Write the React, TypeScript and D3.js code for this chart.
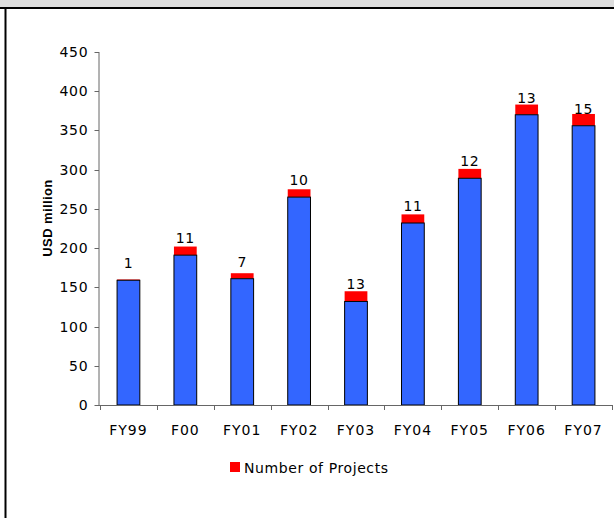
import React from "react";
import * as d3 from "d3";

const categories = ["FY99", "F00", "FY01", "FY02", "FY03", "FY04", "FY05", "FY06", "FY07"];
const usdMillion = [159, 191, 161, 265, 132, 232, 289, 370, 356];
const projectCounts = [1, 11, 7, 10, 13, 11, 12, 13, 15];
const yTicks = [0, 50, 100, 150, 200, 250, 300, 350, 400, 450];

const W = 614;
const H = 518;

export default function App() {
  const x = d3
    .scaleBand<string>()
    .domain(categories)
    .range([100, 612])
    .paddingInner(0.6)
    .paddingOuter(0.3);
  const y = d3.scaleLinear().domain([0, 450]).range([405, 52]);
  const step = x.step();
  const gap = (step - x.bandwidth()) / 2;
  const boundaries = categories.map((c) => (x(c) as number) - gap).concat([612]);
  const font = "'DejaVu Sans', Verdana, sans-serif";
  const axisColor = "#666";

  return (
    <svg
      width={W}
      height={H}
      style={{ position: "absolute", left: 0, top: 0, display: "block", background: "#fff" }}
    >
      {/* frame */}
      <rect x={0} y={0} width={W} height={7} fill="#DDDDDD" />
      <rect x={0} y={7} width={W} height={2} fill="#000" />
      <rect x={4.5} y={7} width={2} height={H - 7} fill="#000" />

      {/* bars */}
      {categories.map((c, i) => {
        const bx = x(c) as number;
        const bw = x.bandwidth();
        const blueTop = y(usdMillion[i]);
        const redTop = y(usdMillion[i] + projectCounts[i]);
        return (
          <g key={c}>
            <rect x={bx} y={redTop} width={bw} height={blueTop - redTop} fill="#FF0000" />
            <rect
              x={bx}
              y={blueTop}
              width={bw}
              height={y(0) - blueTop}
              fill="#3366FF"
              stroke="#000"
              strokeWidth={1}
            />
            <text
              x={bx + bw / 2}
              y={blueTop - 12}
              textAnchor="middle"
              fontFamily={font}
              fontSize={14}
              letterSpacing={0.6}
              fill="#000"
            >
              {projectCounts[i]}
            </text>
          </g>
        );
      })}

      {/* y axis */}
      <line x1={99} x2={99} y1={y(450)} y2={y(0)} stroke={axisColor} strokeWidth={1} />
      {yTicks.map((t) => (
        <g key={t}>
          <line x1={94.5} x2={99} y1={Math.round(y(t)) + 0.5} y2={Math.round(y(t)) + 0.5} stroke={axisColor} />
          <text
            x={88.5}
            y={y(t) + 5}
            textAnchor="end"
            fontFamily={font}
            fontSize={14}
            letterSpacing={0.8}
            fill="#000"
          >
            {t}
          </text>
        </g>
      ))}

      {/* x axis */}
      <line x1={99} x2={612} y1={405.5} y2={405.5} stroke={axisColor} strokeWidth={1} />
      {boundaries.map((b, i) => (
        <line key={i} x1={Math.round(b) + 0.5} x2={Math.round(b) + 0.5} y1={405} y2={410} stroke={axisColor} />
      ))}
      {categories.map((c) => (
        <text
          key={c}
          x={(x(c) as number) + x.bandwidth() / 2}
          y={434.5}
          textAnchor="middle"
          fontFamily={font}
          fontSize={14}
          letterSpacing={1}
          fill="#000"
        >
          {c}
        </text>
      ))}

      {/* y label */}
      <text
        transform={`translate(51.5,218) rotate(-90)`}
        textAnchor="middle"
        fontFamily="'Liberation Sans', Arial, sans-serif"
        fontWeight="bold"
        fontSize={13}
        letterSpacing={0.4}
        fill="#000"
      >
        USD million
      </text>

      {/* legend */}
      <rect x={230} y={462} width={10} height={10} fill="#FF0000" />
      <text x={244} y={472.5} fontFamily={font} fontSize={14} letterSpacing={0.6} fill="#000">
        Number of Projects
      </text>
    </svg>
  );
}
